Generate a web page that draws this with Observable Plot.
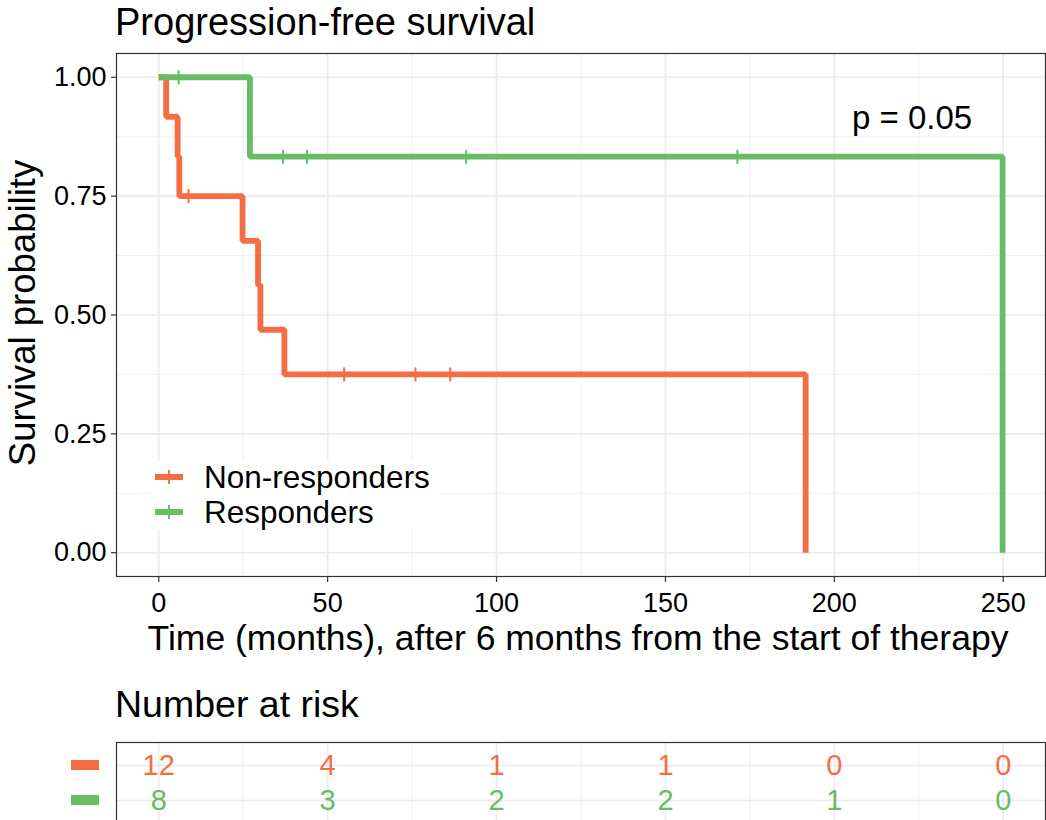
<!DOCTYPE html>
<html>
<head>
<meta charset="utf-8">
<script src="https://cdn.jsdelivr.net/npm/d3@7"></script>
<script src="https://cdn.jsdelivr.net/npm/@observablehq/plot@0.6"></script>
<style>
  body { margin: 0; background: #fff; }
  #wrap { position: relative; width: 1046px; height: 820px; overflow: hidden; background: #fff; }
  #wrap svg { position: absolute; left: 0; }
</style>
</head>
<body>
<div id="wrap"></div>
<script>
// ---------- data ----------
const groups = ["Non-responders", "Responders"];
const colors = ["#F46D43", "#66BD63"];

// Kaplan-Meier step points (time in months, survival probability)
const nrTime = [0, 2.2, 5.6, 6.1, 24.8, 29.4, 30.1, 37.2, 191.5];
const nrSurv = [1, 0.917, 0.833, 0.750, 0.656, 0.563, 0.469, 0.375, 0];
const rTime = [0, 27.0, 249.8];
const rSurv = [1, 0.833, 0];

// censoring marks
const nrCensorTime = [8.8, 54.9, 76.0, 86.3];
const nrCensorSurv = [0.750, 0.375, 0.375, 0.375];
const rCensorTime = [5.9, 36.8, 43.9, 91.0, 171.3];
const rCensorSurv = [1, 0.833, 0.833, 0.833, 0.833];

// number at risk
const riskTimes = [0, 50, 100, 150, 200, 250];
const nrRisk = [12, 4, 1, 1, 0, 0];
const rRisk = [8, 3, 2, 2, 1, 0];

// axes
const xTicks = [0, 50, 100, 150, 200, 250];
const xMinor = [25, 75, 125, 175, 225];
const yTicks = [0, 0.25, 0.5, 0.75, 1];
const yMinor = [0.125, 0.375, 0.625, 0.875];

const titleText = "Progression-free survival";
const xLabel = "Time (months), after 6 months from the start of therapy";
const yLabel = "Survival probability";
const riskTitle = "Number at risk";
const pLabel = "p = 0.05";
const pPos = {x: 223, y: 0.914};

// ---------- build tables ----------
const times = [nrTime, rTime], survs = [nrSurv, rSurv];
const curves = groups.flatMap((g, i) => times[i].map((t, j) => ({group: g, time: t, surv: survs[i][j]})));
const cT = [nrCensorTime, rCensorTime], cS = [nrCensorSurv, rCensorSurv];
const censors = groups.flatMap((g, i) => cT[i].map((t, j) => ({group: g, time: t, surv: cS[i][j]})));
const risks = [nrRisk, rRisk];
const riskRows = groups.flatMap((g, i) => riskTimes.map((t, j) => ({group: g, time: t, n: risks[i][j]})));

const FONT = "'Liberation Sans', Arial, sans-serif";
const GRID = "#EBEBEB";
const wrap = document.getElementById("wrap");

// ---------- main plot ----------
const main = Plot.plot({
  width: 1046, height: 680,
  marginLeft: 116, marginRight: 1, marginTop: 53, marginBottom: 104,
  x: {domain: [-12.5, 262.5]},
  y: {domain: [-0.05, 1.05]},
  color: {domain: groups, range: colors},
  style: {fontFamily: FONT, background: "#fff", color: "#000", overflow: "visible"},
  marks: [
    Plot.gridX(xMinor, {stroke: GRID, strokeOpacity: 1, strokeWidth: 0.8}),
    Plot.gridY(yMinor, {stroke: GRID, strokeOpacity: 1, strokeWidth: 0.8}),
    Plot.gridX(xTicks, {stroke: GRID, strokeOpacity: 1, strokeWidth: 1.6}),
    Plot.gridY(yTicks, {stroke: GRID, strokeOpacity: 1, strokeWidth: 1.6}),
    Plot.axisX(xTicks, {tickSize: 6, tickPadding: 10, fontSize: 27, stroke: "#333", strokeWidth: 1.2, fill: "#000", label: null}),
    Plot.axisY(yTicks, {tickSize: 5, tickPadding: 5, fontSize: 27, stroke: "#333", strokeWidth: 1.2, fill: "#000", tickFormat: d => d.toFixed(2), label: null}),
    Plot.line(curves, {x: "time", y: "surv", z: "group", stroke: "group", strokeWidth: 5.8, curve: "step-after", strokeLinecap: "butt", strokeLinejoin: "miter"}),
    Plot.dot(censors, {x: "time", y: "surv", stroke: "group", symbol: "plus", r: 4.6, strokeWidth: 2}),
    Plot.text([pLabel], {x: () => pPos.x, y: () => pPos.y, text: d => d, fontSize: 33, textAnchor: "middle", lineAnchor: "middle", fill: "#000"}),
    Plot.frame({stroke: "#333", strokeWidth: 1.2})
  ]
});
main.style.top = "0px";
wrap.appendChild(main);

const ms = d3.select(main);
ms.append("text").attr("x", 115).attr("y", 35).attr("text-anchor", "start").attr("font-size", 38).attr("font-family", FONT).attr("fill", "#000").text(titleText);
ms.append("text").attr("x", 578).attr("y", 650).attr("text-anchor", "middle").attr("font-size", 35.5).attr("font-family", FONT).attr("fill", "#000").text(xLabel);
ms.append("text").attr("transform", "translate(35,313) rotate(-90)").attr("text-anchor", "middle").attr("font-size", 36.5).attr("font-family", FONT).attr("fill", "#000").text(yLabel);

// legend inside panel
const lg = ms.append("g");
lg.append("rect").attr("x", 150).attr("y", 461).attr("width", 290).attr("height", 68).attr("fill", "#fff");
groups.forEach((g, i) => {
  const cy = 477 + i * 35;
  lg.append("line").attr("x1", 155).attr("x2", 183).attr("y1", cy).attr("y2", cy).attr("stroke", colors[i]).attr("stroke-width", 6);
  lg.append("line").attr("x1", 169).attr("x2", 169).attr("y1", cy - 7).attr("y2", cy + 7).attr("stroke", colors[i]).attr("stroke-width", 2);
  lg.append("text").attr("x", 204).attr("y", cy + 11).attr("text-anchor", "start").attr("font-size", 31.5).attr("font-family", FONT).attr("fill", "#000").text(g);
});

// ---------- risk table ----------
const risk = Plot.plot({
  width: 1046, height: 153,
  marginLeft: 116, marginRight: 1, marginTop: 62, marginBottom: 10,
  x: {domain: [-12.5, 262.5], axis: null},
  y: {type: "point", domain: groups, padding: 0.657, axis: null},
  color: {domain: groups, range: colors},
  style: {fontFamily: FONT, background: "#fff", overflow: "visible"},
  marks: [
    Plot.ruleX(xMinor, {stroke: GRID, strokeWidth: 0.8}),
    Plot.ruleX(xTicks, {stroke: GRID, strokeWidth: 1.6}),
    Plot.ruleY(groups, {y: d => d, stroke: GRID, strokeWidth: 1.6}),
    Plot.text(riskRows, {x: "time", y: "group", text: "n", fill: "group", fontSize: 29, lineAnchor: "middle"}),
    Plot.frame({stroke: "#333", strokeWidth: 1.2})
  ]
});
risk.style.top = "680px";
wrap.appendChild(risk);
const rs = d3.select(risk);
rs.append("text").attr("x", 115).attr("y", 37).attr("text-anchor", "start").attr("font-size", 37.5).attr("font-family", FONT).attr("fill", "#000").text(riskTitle);
const ys = risk.scale("y");
groups.forEach((g, i) => {
  rs.append("rect").attr("x", 71).attr("width", 28).attr("y", ys.apply(g) - 5).attr("height", 10).attr("fill", colors[i]);
});
</script>
</body>
</html>
